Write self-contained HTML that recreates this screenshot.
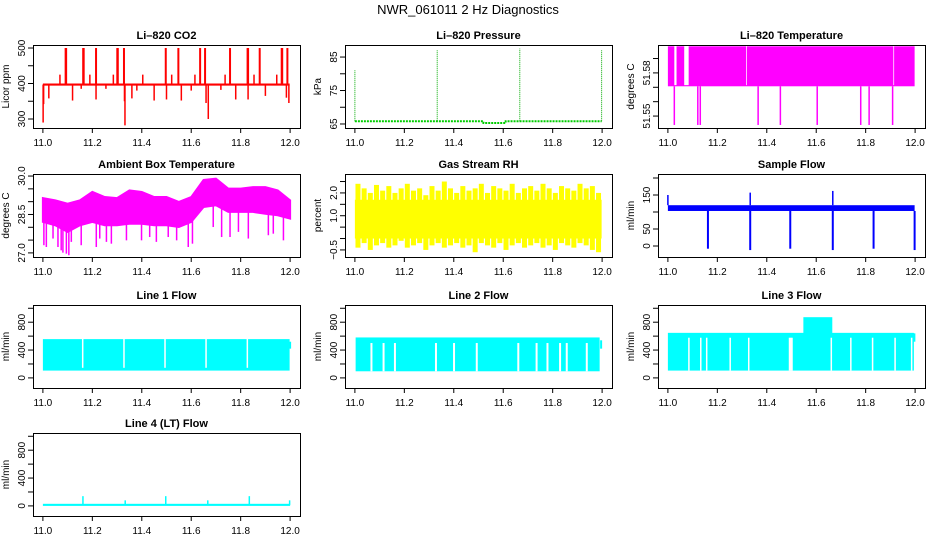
<!DOCTYPE html>
<html><head><meta charset="utf-8">
<style>
html,body{margin:0;padding:0;background:#fff;}
svg{display:block;font-family:"Liberation Sans",Arial,sans-serif;}
.tl{font-size:11px;font-weight:bold;text-anchor:middle;}
.tk{font-size:10px;}
</style></head>
<body>
<svg id="c" width="936" height="540" viewBox="0 0 936 540" xmlns="http://www.w3.org/2000/svg">
<text x="468" y="14" text-anchor="middle" font-size="13">NWR_061011 2 Hz Diagnostics</text>
</svg>
<script>
// ---------- data ----------
const xTicks=[11.0,11.2,11.4,11.6,11.8,12.0];
const xTickLabels=["11.0","11.2","11.4","11.6","11.8","12.0"];
// CO2
const co2Base=397;
const co2UpX=[11.092,11.094,11.163,11.165,11.215,11.301,11.303,11.328,11.497,11.548,11.636,11.656,11.757,11.828,11.830,11.877,11.966,11.968,11.989];
const co2Up=500;
const co2MidX=[11.069,11.190,11.285,11.404,11.521,11.615,11.737,11.854,11.946];
const co2Mid=425;
const co2SpikeX=[11.001,11.003,11.332,11.669,11.024,11.12,11.155,11.215,11.255,11.33,11.36,11.38,11.45,11.5,11.56,11.60,11.66,11.72,11.78,11.83,11.9,11.985,11.995];
const co2SpikeY=[290,342,282,300,358,352,385,355,385,350,358,380,352,355,352,380,345,382,355,355,365,360,345];
// Pressure
const pressBaseX=[11.0,11.52,11.52,11.61,11.61,11.998];
const pressBaseY=[65.8,65.8,65.3,65.3,65.8,65.8];
const pressSpikeX=[11.0,11.333,11.667,11.998];
const pressSpikeY=[81,87,87.5,87];
// Li-820 temperature
const tempHi=51.5985, tempLo=51.5707, tempMin=51.5438;
const tempGapStart=[11.026,11.066,11.316,11.912];
const tempGapEnd=[11.035,11.084,11.319,11.915];
const tempDropX=[11.026,11.121,11.131,11.365,11.455,11.604,11.780,11.814,11.909];
// Ambient box temperature
const ambX=[11.0,11.05,11.1,11.15,11.2,11.25,11.3,11.35,11.4,11.45,11.5,11.55,11.6,11.65,11.7,11.75,11.8,11.85,11.9,11.95,12.0];
const ambHi=[29.14,29.05,28.92,29.05,29.38,29.18,29.14,29.44,29.38,29.18,29.18,28.99,29.18,29.85,29.9,29.51,29.51,29.57,29.57,29.44,29.05];
const ambLo=[28.21,28.08,27.82,28.08,28.21,28.08,28.08,28.14,28.14,28.08,28.08,28.01,28.21,28.79,28.86,28.6,28.6,28.6,28.53,28.47,28.34];
const ambSpikeX=[11.004,11.014,11.041,11.061,11.074,11.081,11.095,11.105,11.115,11.155,11.216,11.230,11.257,11.277,11.338,11.399,11.432,11.459,11.507,11.541,11.588,11.605,11.689,11.723,11.757,11.791,11.831,11.912,11.932,11.973];
const ambSpikeY=[27.30,27.23,27.56,27.23,27.10,27.01,26.97,26.91,27.43,27.30,27.23,27.56,27.43,27.36,27.49,27.49,27.62,27.43,27.62,27.49,27.23,27.36,28.01,27.62,27.62,27.82,27.56,27.69,27.75,27.49];
// Gas stream RH
const rhHi=[2.4,2.2,2.0,2.35,2.1,2.3,2.0,2.2,2.4,2.1,2.2,1.9,2.3,2.1,2.5,2.2,2.0,2.3,2.1,2.2,2.4,2.0,2.3,2.2,2.1,2.4,2.0,2.2,2.3,2.1,2.4,2.2,2.0,2.3,2.2,2.1,2.4,2.2,2.3,2.0];
const rhLo=[-0.4,-0.2,-0.5,-0.3,-0.2,-0.4,-0.3,-0.1,-0.4,-0.3,-0.2,-0.5,-0.3,-0.2,-0.4,-0.3,-0.2,-0.4,-0.3,-0.6,-0.2,-0.3,-0.4,-0.2,-0.5,-0.3,-0.2,-0.4,-0.3,-0.2,-0.4,-0.3,-0.5,-0.2,-0.3,-0.4,-0.2,-0.3,-0.5,-0.6];
const rhCore=[0.0,1.7];
// Sample flow
const sfBand=[103,120];
const sfUpX=[11.0,11.333,11.667];
const sfUpY=[150,157,162];
const sfDownX=[11.162,11.333,11.495,11.667,11.832,11.998];
const sfDownY=[-8,-12,-8,-12,-8,-12];
// Line flows
const l1Band=[105,557], l1Gaps=[11.161,11.328,11.494,11.660,11.827];
const l2Band=[95,581], l2Gaps=[11.067,11.116,11.162,11.328,11.401,11.493,11.661,11.735,11.779,11.830,11.857,11.938];
const l3Band=[105,647], l3Gaps=[11.085,11.133,11.157,11.252,11.327,11.492,11.497,11.502,11.661,11.740,11.828,11.919,11.986];
const l3Bump=[11.548,11.665,130,872];
const l4Base=[0,15];
const l4SpikeX=[11.162,11.333,11.497,11.667,11.835,11.998];
const l4SpikeY=[140,80,140,80,140,80];

// ---------- drawing ----------
const svg=document.getElementById('c');
const NS='http://www.w3.org/2000/svg';
const colX=[33,345,658], rowY=[45,174,305,433], PW=267, PH=83;
function mk(tag,attrs,parent){const e=document.createElementNS(NS,tag);for(const k in attrs)e.setAttribute(k,attrs[k]);(parent||svg).appendChild(e);return e;}
function panel(c,r,title,ylab,ydom,yticks,ylabels,name){
  const x0=colX[c],y0=rowY[r];
  const g=mk('g',{});
  
  
  const sx=v=>x0+(v-10.96)/1.08*PW;
  const sy=v=>y0+PH-(v-ydom[0])/(ydom[1]-ydom[0])*PH;
  const t=mk('text',{x:x0+PW/2,y:y0-6,class:'tl'},g);t.textContent=title;
  
  
  const yl=mk('text',{x:0,y:0,'font-size':10,'text-anchor':'middle',transform:`translate(${x0-24},${y0+PH/2}) rotate(-90)`},g);yl.textContent=ylab;
  
  
  const ax=mk('g',{stroke:'#000','stroke-width':1},g);
  xTicks.forEach((v,i)=>{const X=sx(v);mk('line',{x1:X,x2:X,y1:y0+PH,y2:y0+PH+5},ax);
    const tt=mk('text',{x:X,y:y0+PH+18,'text-anchor':'middle',class:'tk',stroke:'none'},g);tt.textContent=xTickLabels[i];
    
    });
  mk('line',{x1:sx(11),x2:sx(12),y1:y0+PH+0.5,y2:y0+PH+0.5},ax);
  yticks.forEach((v,i)=>{const Y=sy(v);mk('line',{x1:x0-5,x2:x0,y1:Y,y2:Y},ax);
    if(ylabels[i]){const tt=mk('text',{x:0,y:0,'text-anchor':'middle',class:'tk',stroke:'none',transform:`translate(${x0-8},${Y}) rotate(-90)`},g);tt.textContent=ylabels[i];
    
    }});
  mk('line',{x1:x0+0.5,x2:x0+0.5,y1:sy(yticks[0]),y2:sy(yticks[yticks.length-1])},ax);
  const plot=mk('g',{},g);
  const box=mk('rect',{x:x0+0.5,y:y0+0.5,width:PW,height:PH,fill:'none',stroke:'#000'},g);
  
  
  return {sx,sy,g:plot};
}
function vl(p,x,y1,y2,col,w){const e=mk('line',{x1:p.sx(x),x2:p.sx(x),y1:p.sy(y1),y2:p.sy(y2),stroke:col,'stroke-width':w||1.5},p.g);
  
  return e;}
function band(p,xa,xb,lo,hi,col){const e=mk('rect',{x:p.sx(xa),y:p.sy(hi),width:p.sx(xb)-p.sx(xa),height:p.sy(lo)-p.sy(hi),fill:col},p.g);
  
  return e;}
function interp(xs,ys,x){for(let i=0;i<xs.length-1;i++){if(x<=xs[i+1]){const t=(x-xs[i])/(xs[i+1]-xs[i]);return ys[i]+t*(ys[i+1]-ys[i]);}}return ys[ys.length-1];}

// CO2
let p=panel(0,0,'Li\u2013820 CO2','Licor ppm',[274.6,508.5],[300,350,400,450,500],['300','','400','','500'],'co2');
band(p,11.0,11.998,co2Base-3,co2Base+3,'#ff0000');
co2UpX.forEach(x=>vl(p,x,co2Base,co2Up,'#ff0000',2));
co2MidX.forEach(x=>vl(p,x,co2Base,co2Mid,'#ff0000',1.5));
co2SpikeX.forEach((x,i)=>vl(p,x,co2Base,co2SpikeY[i],'#ff0000',1.5));

// Pressure
p=panel(1,0,'Li\u2013820 Pressure','kPa',[63.8,88.6],[65,70,75,80,85],['65','','75','','85'],'pressure');
{const pts=pressBaseX.map((x,i)=>p.sx(x)+','+p.sy(pressBaseY[i])).join(' ');
 const pl=mk('polyline',{points:pts,fill:'none',stroke:'#00cc00','stroke-width':2,'stroke-dasharray':'2,1'},p.g);
 
 }
pressSpikeX.forEach((x,i)=>{vl(p,x,pressBaseY[0],pressSpikeY[i],'#00aa00',1).setAttribute('stroke-dasharray','1,1');});

// Temperature
p=panel(2,0,'Li\u2013820 Temperature','degrees C',[51.5417,51.5994],[51.55,51.56,51.57,51.58,51.59],['51.55','','','51.58',''],'li820-temperature');
band(p,11.0,11.998,tempLo,tempHi,'#ff00ff');
tempGapStart.forEach((s,i)=>band(p,s,tempGapEnd[i],tempLo+0.0008,tempHi+0.0003,'#ffffff'));
tempDropX.forEach(x=>vl(p,x,tempLo,tempMin,'#ff00ff',1.5));

// Ambient
p=panel(0,1,'Ambient Box Temperature','degrees C',[26.84,30.08],[27.0,27.5,28.0,28.5,29.0,29.5,30.0],['27.0','','','28.5','','','30.0'],'ambient-temperature');
{let pts=ambX.map((x,i)=>p.sx(x)+','+p.sy(ambHi[i]));
 pts=pts.concat(ambX.slice().reverse().map((x,j)=>{const i=ambX.length-1-j;return p.sx(x)+','+p.sy(ambLo[i]);}));
 const pg=mk('polygon',{points:pts.join(' '),fill:'#ff00ff',stroke:'#ff00ff','stroke-width':2},p.g);
 
 }
ambSpikeX.forEach((x,i)=>vl(p,x,interp(ambX,ambLo,x)+0.1,ambSpikeY[i],'#ff00ff',1.5));

// RH
p=panel(1,1,'Gas Stream RH','percent',[-0.81,2.83],[-0.5,0,0.5,1.0,1.5,2.0,2.5],['\u22120.5','','','1.0','','2.0',''],'gas-stream-rh');
band(p,11.0,11.998,rhCore[0],rhCore[1],'#ffff00');
rhHi.forEach((h,i)=>{const x=11.0+(i+0.5)/rhHi.length*0.998;
  const e=mk('rect',{x:p.sx(x)-2.5,y:p.sy(h),width:5,height:p.sy(rhLo[i])-p.sy(h),fill:'#ffff00'},p.g);
  
  });

// Sample flow
p=panel(2,1,'Sample Flow','ml/min',[-32.4,211.8],[0,50,100,150,200],['0','50','','150',''],'sample-flow');
band(p,11.0,11.998,sfBand[0],sfBand[1],'#0000ff');
sfUpX.forEach((x,i)=>vl(p,x,sfBand[1],sfUpY[i],'#0000ff',1.5));
sfDownX.forEach((x,i)=>vl(p,x,sfBand[0],sfDownY[i],'#0000ff',2));

const fTicks=[0,200,400,600,800,1000], fLabels=['0','','400','','800',''], fDom=[-145,1047];
// Line 1
p=panel(0,2,'Line 1 Flow','ml/min',fDom,fTicks,fLabels,'line1-flow');
band(p,11.0,11.998,l1Band[0],l1Band[1],'#00ffff');
l1Gaps.forEach(x=>vl(p,x,l1Band[0]+40,l1Band[1]+5,'#ffffff',1.5));
vl(p,12.0,420,520,'#00ffff',2);
// Line 2
p=panel(1,2,'Line 2 Flow','ml/min',fDom,fTicks,fLabels,'line2-flow');
band(p,11.003,11.99,l2Band[0],l2Band[1],'#00ffff');
l2Gaps.forEach(x=>vl(p,x,l2Band[0],l2Band[1]-80,'#ffffff',2));
vl(p,11.996,420,540,'#00ffff',2);
// Line 3
p=panel(2,2,'Line 3 Flow','ml/min',fDom,fTicks,fLabels,'line3-flow');
band(p,11.0,11.995,l3Band[0],l3Band[1],'#00ffff');
band(p,l3Bump[0],l3Bump[1],l3Bump[2],l3Bump[3],'#00ffff');
l3Gaps.forEach(x=>vl(p,x,l3Band[0],l3Band[1]-70,'#ffffff',1.5));
vl(p,11.997,520,640,'#00ffff',2);
// Line 4
p=panel(0,3,'Line 4 (LT) Flow','ml/min',fDom,fTicks,fLabels,'line4-flow');
band(p,11.0,12.0,l4Base[0],l4Base[1]+15,'#00ffff');
l4SpikeX.forEach((x,i)=>vl(p,x,l4Base[1],l4SpikeY[i],'#00ffff',1.5));
</script>
</body></html>
